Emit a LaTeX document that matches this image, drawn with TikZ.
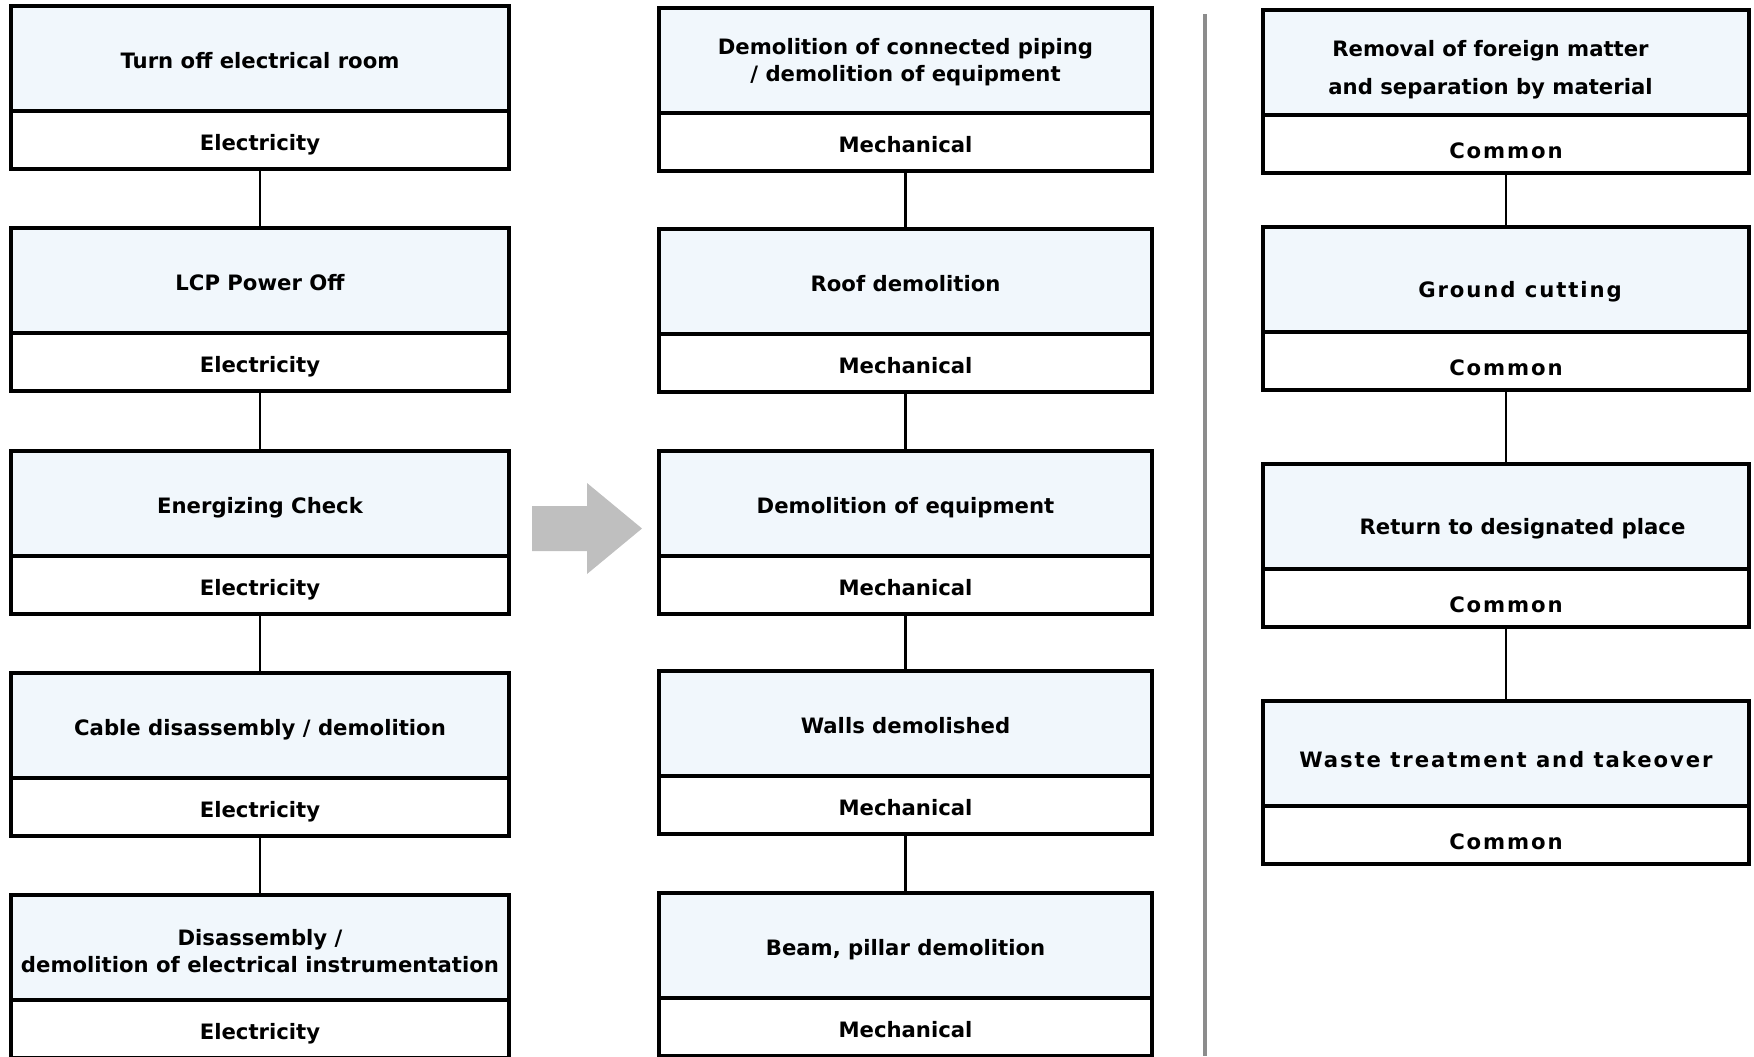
\documentclass[tikz,border=0pt]{standalone}
\usepackage{fontspec}
\setmainfont{DejaVu Sans}
\newfontfamily\spacedfont{DejaVu Sans}[LetterSpace=9]
\usepackage{tikz}
\usetikzlibrary{positioning}
\definecolor{stepblue}{HTML}{F1F7FC}
\definecolor{arrowgrey}{HTML}{BFBFBF}
\definecolor{rulegrey}{HTML}{8C8C8C}
\tikzset{
  stage box/.style={draw,line width=1.8pt,outer sep=0pt,inner sep=0pt,
    fill=stepblue,minimum height=52.5pt,align=center,
    font=\bfseries\fontsize{10.6}{13.5}\selectfont,
    text height=10.3pt,text depth=0pt},
  trade box/.style={stage box,fill=white,minimum height=29pt,text height=10.5pt},
  spaced/.style={font=\spacedfont\bfseries\fontsize{10.6}{13.5}\selectfont},
  link/.style={line width=1.2pt},
}

\begin{document}
\begin{tikzpicture}[x=0.5pt,y=-0.5pt]
\useasboundingbox (0,0) rectangle (1754,1056);
% electrical work
\begin{scope}[every node/.append style={minimum width=249pt}]
\node[stage box] (e1) at (260,58.5) {Turn off electrical room};
\node[stage box] (e2) at (260,280.5) {LCP Power Off};
\node[stage box] (e3) at (260,503.5) {Energizing Check};
\node[stage box] (e4) at (260,725.5) {Cable disassembly / demolition};
\node[stage box,text height=25.2pt] (e5) at (260,947.5)
  {Disassembly /\\demolition of electrical instrumentation};
\foreach \n in {1,...,5}
  \node[trade box,below=0pt of e\n] (e\n-tag) {Electricity};
\end{scope}
% mechanical work
\begin{scope}[every node/.append style={minimum width=246.5pt}]
\node[stage box,text height=21pt] (m1) at (905.5,60.5)
  {Demolition of connected piping\\/ demolition of equipment};
\node[stage box] (m2) at (905.5,281.5) {Roof demolition};
\node[stage box] (m3) at (905.5,503.5) {Demolition of equipment};
\node[stage box] (m4) at (905.5,723.5) {Walls demolished};
\node[stage box] (m5) at (905.5,945.5) {Beam, pillar demolition};
\foreach \n in {1,...,5}
  \node[trade box,below=0pt of m\n] (m\n-tag) {Mechanical};
\end{scope}
% common work
\begin{scope}[every node/.append style={minimum width=243pt}]
\node[stage box,text height=31.9pt] (c1) at (1506,62.5)
  {Removal of foreign matter\hspace*{15.5pt}\\[5.3pt]and separation by material\hspace*{15.5pt}};
\node[stage box,spaced,text height=17.7pt] (c2) at (1506,279.5) {\kern14pt Ground cutting};
\node[stage box,text height=17.7pt] (c3) at (1506,516.5) {\kern16.5pt Return to designated place};
\node[stage box,spaced,text height=13.7pt] (c4) at (1506,753.5) {Waste treatment and takeover};
\foreach \n in {1,...,4}
  \node[trade box,spaced,text height=14.2pt,below=0pt of c\n] (c\n-tag) {Common};
\end{scope}

\foreach \a/\b in {1/2,2/3,3/4,4/5}
{
  \draw[link] (e\a-tag) -- (e\b);
  \draw[link] (m\a-tag) -- (m\b);
}
\foreach \a/\b in {1/2,2/3,3/4}
  \draw[link] (c\a-tag) -- (c\b);

\fill[arrowgrey] (532,506) -- (587,506) -- (587,483) -- (642,528.5)
  -- (587,574) -- (587,551) -- (532,551) -- cycle;
\draw[rulegrey,line width=2pt] (1205,14) -- (1205,1056);
\end{tikzpicture}
\end{document}
